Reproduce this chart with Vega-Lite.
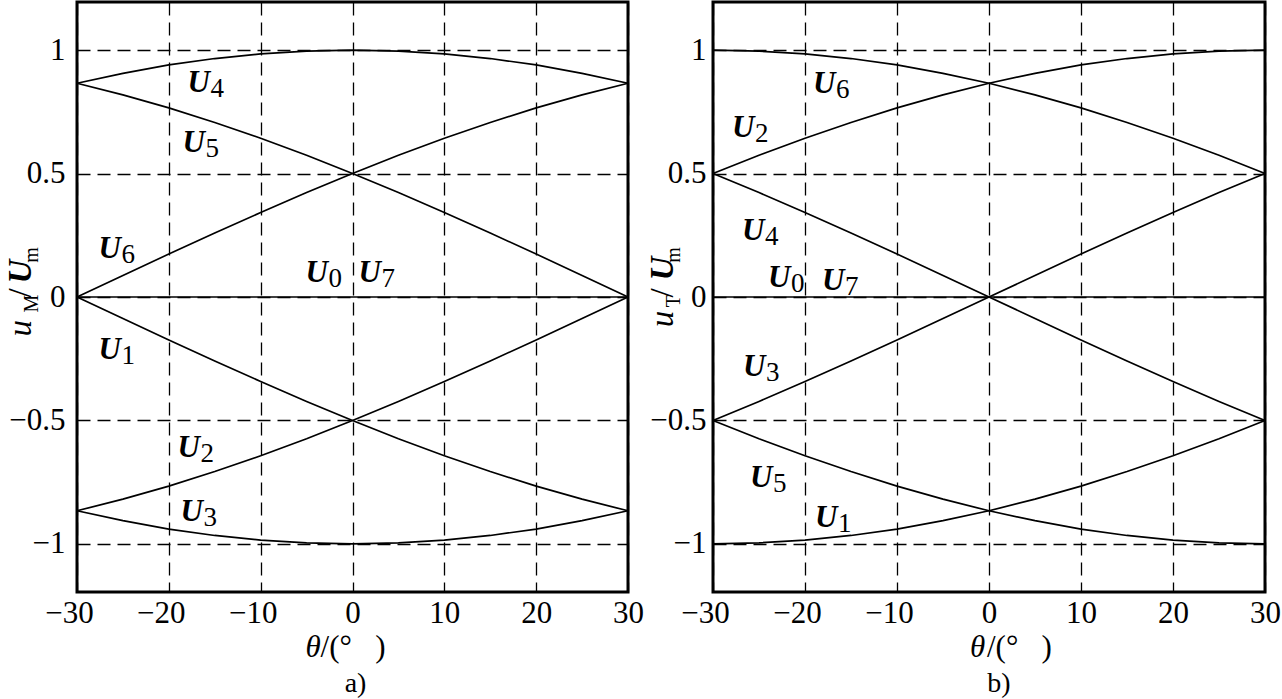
{
  "$schema": "https://vega.github.io/schema/vega-lite/v6.json",
  "background": "white",
  "padding": {"left": 3, "top": 0, "right": 0, "bottom": 0},
  "autosize": {"type": "pad"},
  "bounds": "flush",
  "spacing": 85,
  "config": {
    "font": "Liberation Serif",
    "view": {"stroke": "black", "strokeWidth": 3},
    "axis": {
      "labelFont": "Liberation Serif",
      "labelFontSize": 31,
      "labelColor": "black",
      "ticks": false,
      "domain": false,
      "grid": true,
      "gridColor": "black",
      "gridDash": [13, 7],
      "gridWidth": 1.3,
      "gridOpacity": 1,
      "title": null,
      "labelFlush": false
    }
  },
  "datasets": {
    "lines_a": [
      {"series": "cos", "theta": -30, "value": 0.866}, {"series": "cos", "theta": -25, "value": 0.906}, {"series": "cos", "theta": -20, "value": 0.94}, {"series": "cos", "theta": -15, "value": 0.966}, {"series": "cos", "theta": -10, "value": 0.985}, {"series": "cos", "theta": -5, "value": 0.996}, {"series": "cos", "theta": 0, "value": 1}, {"series": "cos", "theta": 5, "value": 0.996}, {"series": "cos", "theta": 10, "value": 0.985}, {"series": "cos", "theta": 15, "value": 0.966}, {"series": "cos", "theta": 20, "value": 0.94}, {"series": "cos", "theta": 25, "value": 0.906}, {"series": "cos", "theta": 30, "value": 0.866},
      {"series": "p60", "theta": -30, "value": 0.866}, {"series": "p60", "theta": -25, "value": 0.819}, {"series": "p60", "theta": -20, "value": 0.766}, {"series": "p60", "theta": -15, "value": 0.707}, {"series": "p60", "theta": -10, "value": 0.643}, {"series": "p60", "theta": -5, "value": 0.574}, {"series": "p60", "theta": 0, "value": 0.5}, {"series": "p60", "theta": 5, "value": 0.423}, {"series": "p60", "theta": 10, "value": 0.342}, {"series": "p60", "theta": 15, "value": 0.259}, {"series": "p60", "theta": 20, "value": 0.174}, {"series": "p60", "theta": 25, "value": 0.087}, {"series": "p60", "theta": 30, "value": 0},
      {"series": "m60", "theta": -30, "value": 0}, {"series": "m60", "theta": -25, "value": 0.087}, {"series": "m60", "theta": -20, "value": 0.174}, {"series": "m60", "theta": -15, "value": 0.259}, {"series": "m60", "theta": -10, "value": 0.342}, {"series": "m60", "theta": -5, "value": 0.423}, {"series": "m60", "theta": 0, "value": 0.5}, {"series": "m60", "theta": 5, "value": 0.574}, {"series": "m60", "theta": 10, "value": 0.643}, {"series": "m60", "theta": 15, "value": 0.707}, {"series": "m60", "theta": 20, "value": 0.766}, {"series": "m60", "theta": 25, "value": 0.819}, {"series": "m60", "theta": 30, "value": 0.866},
      {"series": "zero", "theta": -30, "value": 0}, {"series": "zero", "theta": 30, "value": 0},
      {"series": "nm60", "theta": -30, "value": 0}, {"series": "nm60", "theta": -25, "value": -0.087}, {"series": "nm60", "theta": -20, "value": -0.174}, {"series": "nm60", "theta": -15, "value": -0.259}, {"series": "nm60", "theta": -10, "value": -0.342}, {"series": "nm60", "theta": -5, "value": -0.423}, {"series": "nm60", "theta": 0, "value": -0.5}, {"series": "nm60", "theta": 5, "value": -0.574}, {"series": "nm60", "theta": 10, "value": -0.643}, {"series": "nm60", "theta": 15, "value": -0.707}, {"series": "nm60", "theta": 20, "value": -0.766}, {"series": "nm60", "theta": 25, "value": -0.819}, {"series": "nm60", "theta": 30, "value": -0.866},
      {"series": "np60", "theta": -30, "value": -0.866}, {"series": "np60", "theta": -25, "value": -0.819}, {"series": "np60", "theta": -20, "value": -0.766}, {"series": "np60", "theta": -15, "value": -0.707}, {"series": "np60", "theta": -10, "value": -0.643}, {"series": "np60", "theta": -5, "value": -0.574}, {"series": "np60", "theta": 0, "value": -0.5}, {"series": "np60", "theta": 5, "value": -0.423}, {"series": "np60", "theta": 10, "value": -0.342}, {"series": "np60", "theta": 15, "value": -0.259}, {"series": "np60", "theta": 20, "value": -0.174}, {"series": "np60", "theta": 25, "value": -0.087}, {"series": "np60", "theta": 30, "value": 0},
      {"series": "ncos", "theta": -30, "value": -0.866}, {"series": "ncos", "theta": -25, "value": -0.906}, {"series": "ncos", "theta": -20, "value": -0.94}, {"series": "ncos", "theta": -15, "value": -0.966}, {"series": "ncos", "theta": -10, "value": -0.985}, {"series": "ncos", "theta": -5, "value": -0.996}, {"series": "ncos", "theta": 0, "value": -1}, {"series": "ncos", "theta": 5, "value": -0.996}, {"series": "ncos", "theta": 10, "value": -0.985}, {"series": "ncos", "theta": 15, "value": -0.966}, {"series": "ncos", "theta": 20, "value": -0.94}, {"series": "ncos", "theta": 25, "value": -0.906}, {"series": "ncos", "theta": 30, "value": -0.866}
    ],
    "lines_b": [
      {"series": "q", "theta": -30, "value": 1}, {"series": "q", "theta": -25, "value": 0.996}, {"series": "q", "theta": -20, "value": 0.985}, {"series": "q", "theta": -15, "value": 0.966}, {"series": "q", "theta": -10, "value": 0.94}, {"series": "q", "theta": -5, "value": 0.906}, {"series": "q", "theta": 0, "value": 0.866}, {"series": "q", "theta": 5, "value": 0.819}, {"series": "q", "theta": 10, "value": 0.766}, {"series": "q", "theta": 15, "value": 0.707}, {"series": "q", "theta": 20, "value": 0.643}, {"series": "q", "theta": 25, "value": 0.574}, {"series": "q", "theta": 30, "value": 0.5},
      {"series": "r", "theta": -30, "value": 0.5}, {"series": "r", "theta": -25, "value": 0.574}, {"series": "r", "theta": -20, "value": 0.643}, {"series": "r", "theta": -15, "value": 0.707}, {"series": "r", "theta": -10, "value": 0.766}, {"series": "r", "theta": -5, "value": 0.819}, {"series": "r", "theta": 0, "value": 0.866}, {"series": "r", "theta": 5, "value": 0.906}, {"series": "r", "theta": 10, "value": 0.94}, {"series": "r", "theta": 15, "value": 0.966}, {"series": "r", "theta": 20, "value": 0.985}, {"series": "r", "theta": 25, "value": 0.996}, {"series": "r", "theta": 30, "value": 1},
      {"series": "ns", "theta": -30, "value": 0.5}, {"series": "ns", "theta": -25, "value": 0.423}, {"series": "ns", "theta": -20, "value": 0.342}, {"series": "ns", "theta": -15, "value": 0.259}, {"series": "ns", "theta": -10, "value": 0.174}, {"series": "ns", "theta": -5, "value": 0.087}, {"series": "ns", "theta": 0, "value": 0}, {"series": "ns", "theta": 5, "value": -0.087}, {"series": "ns", "theta": 10, "value": -0.174}, {"series": "ns", "theta": 15, "value": -0.259}, {"series": "ns", "theta": 20, "value": -0.342}, {"series": "ns", "theta": 25, "value": -0.423}, {"series": "ns", "theta": 30, "value": -0.5},
      {"series": "s", "theta": -30, "value": -0.5}, {"series": "s", "theta": -25, "value": -0.423}, {"series": "s", "theta": -20, "value": -0.342}, {"series": "s", "theta": -15, "value": -0.259}, {"series": "s", "theta": -10, "value": -0.174}, {"series": "s", "theta": -5, "value": -0.087}, {"series": "s", "theta": 0, "value": 0}, {"series": "s", "theta": 5, "value": 0.087}, {"series": "s", "theta": 10, "value": 0.174}, {"series": "s", "theta": 15, "value": 0.259}, {"series": "s", "theta": 20, "value": 0.342}, {"series": "s", "theta": 25, "value": 0.423}, {"series": "s", "theta": 30, "value": 0.5},
      {"series": "zero", "theta": -30, "value": 0}, {"series": "zero", "theta": 30, "value": 0},
      {"series": "nq", "theta": -30, "value": -1}, {"series": "nq", "theta": -25, "value": -0.996}, {"series": "nq", "theta": -20, "value": -0.985}, {"series": "nq", "theta": -15, "value": -0.966}, {"series": "nq", "theta": -10, "value": -0.94}, {"series": "nq", "theta": -5, "value": -0.906}, {"series": "nq", "theta": 0, "value": -0.866}, {"series": "nq", "theta": 5, "value": -0.819}, {"series": "nq", "theta": 10, "value": -0.766}, {"series": "nq", "theta": 15, "value": -0.707}, {"series": "nq", "theta": 20, "value": -0.643}, {"series": "nq", "theta": 25, "value": -0.574}, {"series": "nq", "theta": 30, "value": -0.5},
      {"series": "nr", "theta": -30, "value": -0.5}, {"series": "nr", "theta": -25, "value": -0.574}, {"series": "nr", "theta": -20, "value": -0.643}, {"series": "nr", "theta": -15, "value": -0.707}, {"series": "nr", "theta": -10, "value": -0.766}, {"series": "nr", "theta": -5, "value": -0.819}, {"series": "nr", "theta": 0, "value": -0.866}, {"series": "nr", "theta": 5, "value": -0.906}, {"series": "nr", "theta": 10, "value": -0.94}, {"series": "nr", "theta": 15, "value": -0.966}, {"series": "nr", "theta": 20, "value": -0.985}, {"series": "nr", "theta": 25, "value": -0.996}, {"series": "nr", "theta": 30, "value": -1}
    ],
    "labels_a": [
      {"x": -17.97, "y": 0.832, "main": "U", "sub": "4"},
      {"x": -18.51, "y": 0.586, "main": "U", "sub": "5"},
      {"x": -27.66, "y": 0.16, "main": "U", "sub": "6"},
      {"x": -5.12, "y": 0.059, "main": "U", "sub": "0"},
      {"x": 0.65, "y": 0.059, "main": "U", "sub": "7"},
      {"x": -27.66, "y": -0.253, "main": "U", "sub": "1"},
      {"x": -19.06, "y": -0.648, "main": "U", "sub": "2"},
      {"x": -18.73, "y": -0.907, "main": "U", "sub": "3"}
    ],
    "labels_b": [
      {"x": -19.13, "y": 0.826, "main": "U", "sub": "6"},
      {"x": -27.93, "y": 0.648, "main": "U", "sub": "2"},
      {"x": -26.85, "y": 0.232, "main": "U", "sub": "4"},
      {"x": -24.02, "y": 0.042, "main": "U", "sub": "0"},
      {"x": -18.15, "y": 0.03, "main": "U", "sub": "7"},
      {"x": -26.74, "y": -0.321, "main": "U", "sub": "3"},
      {"x": -25.98, "y": -0.77, "main": "U", "sub": "5"},
      {"x": -18.91, "y": -0.931, "main": "U", "sub": "1"}
    ],
    "titles_a": [
      {"kind": "yit", "x": -35.06, "y": -0.16, "text": "u"},
      {"kind": "ysub", "x": -35.06, "y": -0.063, "text": "M"},
      {"kind": "yrm", "x": -35.06, "y": -0.002, "text": "/"},
      {"kind": "ybi", "x": -35.06, "y": 0.055, "text": "U"},
      {"kind": "ysub", "x": -35.06, "y": 0.139, "text": "m"},
      {"kind": "xit", "x": -5.12, "y": -1.457, "text": "θ"},
      {"kind": "xrm", "x": -3.48, "y": -1.457, "text": "/(°\u00a0\u00a0\u00a0)"},
      {"kind": "cap", "x": 0.33, "y": -1.6, "text": "a)"}
    ],
    "titles_b": [
      {"kind": "yit", "x": -34.35, "y": -0.123, "text": "u"},
      {"kind": "ysub", "x": -34.35, "y": -0.042, "text": "T"},
      {"kind": "yrm", "x": -34.35, "y": -0.002, "text": "/"},
      {"kind": "ybi", "x": -34.35, "y": 0.067, "text": "U"},
      {"kind": "ysub", "x": -34.35, "y": 0.139, "text": "m"},
      {"kind": "xit", "x": -2.07, "y": -1.457, "text": "θ"},
      {"kind": "xrm", "x": -0.22, "y": -1.457, "text": "/(°\u00a0\u00a0\u00a0)"},
      {"kind": "cap", "x": 1.09, "y": -1.6, "text": "b)"}
    ]
  },
  "hconcat": [
    {
      "width": 551,
      "height": 590,
      "layer": [
        {
          "data": {"name": "lines_a"},
          "mark": {"type": "line", "color": "black", "strokeWidth": 1.7},
          "encoding": {
            "x": {"field": "theta", "type": "quantitative", "scale": {"domain": [-30, 30], "nice": false, "zero": false},
                  "axis": {"values": [-30, -20, -10, 0, 10, 20, 30], "title": null, "labelPadding": 6, "labelOffset": {"condition": {"test": "datum.value < 0", "value": -8}, "value": 0}}},
            "y": {"field": "value", "type": "quantitative", "scale": {"domain": [-1.195, 1.195], "nice": false, "zero": false},
                  "axis": {"values": [-1, -0.5, 0, 0.5, 1], "format": "~g", "title": null, "labelPadding": 12}},
            "detail": {"field": "series"}
          }
        },
        {
          "data": {"name": "labels_a"},
          "mark": {"type": "text", "font": "Liberation Serif", "fontStyle": "italic", "fontWeight": "bold", "fontSize": 31, "align": "left", "baseline": "alphabetic", "color": "black"},
          "encoding": {"x": {"field": "x", "type": "quantitative"}, "y": {"field": "y", "type": "quantitative"}, "text": {"field": "main"}}
        },
        {
          "data": {"name": "labels_a"},
          "mark": {"type": "text", "font": "Liberation Serif", "fontSize": 27, "align": "left", "baseline": "alphabetic", "dx": 23, "dy": 5, "color": "black"},
          "encoding": {"x": {"field": "x", "type": "quantitative"}, "y": {"field": "y", "type": "quantitative"}, "text": {"field": "sub"}}
        },
        {
          "data": {"name": "titles_a"},
          "transform": [{"filter": "datum.kind == 'yit'"}],
          "mark": {"type": "text", "font": "Liberation Serif", "fontStyle": "italic", "fontSize": 33, "angle": -90, "align": "left", "baseline": "alphabetic", "color": "black"},
          "encoding": {"x": {"field": "x", "type": "quantitative"}, "y": {"field": "y", "type": "quantitative"}, "text": {"field": "text"}}
        },
        {
          "data": {"name": "titles_a"},
          "transform": [{"filter": "datum.kind == 'ybi'"}],
          "mark": {"type": "text", "font": "Liberation Serif", "fontStyle": "italic", "fontWeight": "bold", "fontSize": 33, "angle": -90, "align": "left", "baseline": "alphabetic", "color": "black"},
          "encoding": {"x": {"field": "x", "type": "quantitative"}, "y": {"field": "y", "type": "quantitative"}, "text": {"field": "text"}}
        },
        {
          "data": {"name": "titles_a"},
          "transform": [{"filter": "datum.kind == 'yrm'"}],
          "mark": {"type": "text", "font": "Liberation Serif", "fontSize": 33, "angle": -90, "align": "left", "baseline": "alphabetic", "color": "black"},
          "encoding": {"x": {"field": "x", "type": "quantitative"}, "y": {"field": "y", "type": "quantitative"}, "text": {"field": "text"}}
        },
        {
          "data": {"name": "titles_a"},
          "transform": [{"filter": "datum.kind == 'ysub'"}],
          "mark": {"type": "text", "font": "Liberation Serif", "fontSize": 20, "angle": -90, "align": "left", "baseline": "alphabetic", "dy": 7, "color": "black"},
          "encoding": {"x": {"field": "x", "type": "quantitative"}, "y": {"field": "y", "type": "quantitative"}, "text": {"field": "text"}}
        },
        {
          "data": {"name": "titles_a"},
          "transform": [{"filter": "datum.kind == 'xit'"}],
          "mark": {"type": "text", "font": "Liberation Serif", "fontStyle": "italic", "fontSize": 31, "align": "left", "baseline": "alphabetic", "color": "black"},
          "encoding": {"x": {"field": "x", "type": "quantitative"}, "y": {"field": "y", "type": "quantitative"}, "text": {"field": "text"}}
        },
        {
          "data": {"name": "titles_a"},
          "transform": [{"filter": "datum.kind == 'xrm'"}],
          "mark": {"type": "text", "font": "Liberation Serif", "fontSize": 31, "align": "left", "baseline": "alphabetic", "color": "black"},
          "encoding": {"x": {"field": "x", "type": "quantitative"}, "y": {"field": "y", "type": "quantitative"}, "text": {"field": "text"}}
        },
        {
          "data": {"name": "titles_a"},
          "transform": [{"filter": "datum.kind == 'cap'"}],
          "mark": {"type": "text", "font": "Liberation Serif", "fontSize": 28, "align": "center", "baseline": "alphabetic", "color": "black"},
          "encoding": {"x": {"field": "x", "type": "quantitative"}, "y": {"field": "y", "type": "quantitative"}, "text": {"field": "text"}}
        }
      ]
    },
    {
      "width": 552,
      "height": 590,
      "layer": [
        {
          "data": {"name": "lines_b"},
          "mark": {"type": "line", "color": "black", "strokeWidth": 1.7},
          "encoding": {
            "x": {"field": "theta", "type": "quantitative", "scale": {"domain": [-30, 30], "nice": false, "zero": false},
                  "axis": {"values": [-30, -20, -10, 0, 10, 20, 30], "title": null, "labelPadding": 6, "labelOffset": {"condition": {"test": "datum.value < 0", "value": -8}, "value": 0}}},
            "y": {"field": "value", "type": "quantitative", "scale": {"domain": [-1.195, 1.195], "nice": false, "zero": false},
                  "axis": {"values": [-1, -0.5, 0, 0.5, 1], "format": "~g", "title": null, "labelPadding": 7}},
            "detail": {"field": "series"}
          }
        },
        {
          "data": {"name": "labels_b"},
          "mark": {"type": "text", "font": "Liberation Serif", "fontStyle": "italic", "fontWeight": "bold", "fontSize": 31, "align": "left", "baseline": "alphabetic", "color": "black"},
          "encoding": {"x": {"field": "x", "type": "quantitative"}, "y": {"field": "y", "type": "quantitative"}, "text": {"field": "main"}}
        },
        {
          "data": {"name": "labels_b"},
          "mark": {"type": "text", "font": "Liberation Serif", "fontSize": 27, "align": "left", "baseline": "alphabetic", "dx": 23, "dy": 5, "color": "black"},
          "encoding": {"x": {"field": "x", "type": "quantitative"}, "y": {"field": "y", "type": "quantitative"}, "text": {"field": "sub"}}
        },
        {
          "data": {"name": "titles_b"},
          "transform": [{"filter": "datum.kind == 'yit'"}],
          "mark": {"type": "text", "font": "Liberation Serif", "fontStyle": "italic", "fontSize": 33, "angle": -90, "align": "left", "baseline": "alphabetic", "color": "black"},
          "encoding": {"x": {"field": "x", "type": "quantitative"}, "y": {"field": "y", "type": "quantitative"}, "text": {"field": "text"}}
        },
        {
          "data": {"name": "titles_b"},
          "transform": [{"filter": "datum.kind == 'ybi'"}],
          "mark": {"type": "text", "font": "Liberation Serif", "fontStyle": "italic", "fontWeight": "bold", "fontSize": 33, "angle": -90, "align": "left", "baseline": "alphabetic", "color": "black"},
          "encoding": {"x": {"field": "x", "type": "quantitative"}, "y": {"field": "y", "type": "quantitative"}, "text": {"field": "text"}}
        },
        {
          "data": {"name": "titles_b"},
          "transform": [{"filter": "datum.kind == 'yrm'"}],
          "mark": {"type": "text", "font": "Liberation Serif", "fontSize": 33, "angle": -90, "align": "left", "baseline": "alphabetic", "color": "black"},
          "encoding": {"x": {"field": "x", "type": "quantitative"}, "y": {"field": "y", "type": "quantitative"}, "text": {"field": "text"}}
        },
        {
          "data": {"name": "titles_b"},
          "transform": [{"filter": "datum.kind == 'ysub'"}],
          "mark": {"type": "text", "font": "Liberation Serif", "fontSize": 20, "angle": -90, "align": "left", "baseline": "alphabetic", "dy": 7, "color": "black"},
          "encoding": {"x": {"field": "x", "type": "quantitative"}, "y": {"field": "y", "type": "quantitative"}, "text": {"field": "text"}}
        },
        {
          "data": {"name": "titles_b"},
          "transform": [{"filter": "datum.kind == 'xit'"}],
          "mark": {"type": "text", "font": "Liberation Serif", "fontStyle": "italic", "fontSize": 31, "align": "left", "baseline": "alphabetic", "color": "black"},
          "encoding": {"x": {"field": "x", "type": "quantitative"}, "y": {"field": "y", "type": "quantitative"}, "text": {"field": "text"}}
        },
        {
          "data": {"name": "titles_b"},
          "transform": [{"filter": "datum.kind == 'xrm'"}],
          "mark": {"type": "text", "font": "Liberation Serif", "fontSize": 31, "align": "left", "baseline": "alphabetic", "color": "black"},
          "encoding": {"x": {"field": "x", "type": "quantitative"}, "y": {"field": "y", "type": "quantitative"}, "text": {"field": "text"}}
        },
        {
          "data": {"name": "titles_b"},
          "transform": [{"filter": "datum.kind == 'cap'"}],
          "mark": {"type": "text", "font": "Liberation Serif", "fontSize": 28, "align": "center", "baseline": "alphabetic", "color": "black"},
          "encoding": {"x": {"field": "x", "type": "quantitative"}, "y": {"field": "y", "type": "quantitative"}, "text": {"field": "text"}}
        }
      ]
    }
  ]
}
